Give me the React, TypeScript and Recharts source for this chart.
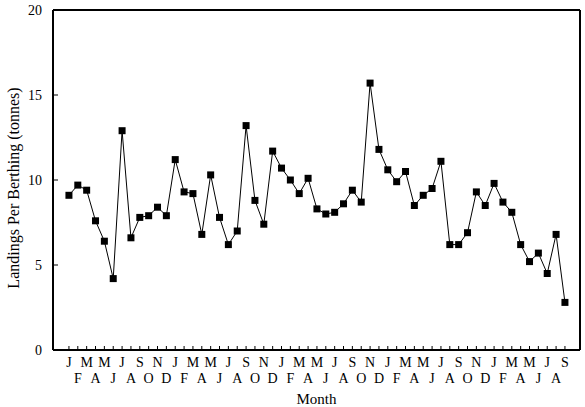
import React from "react";
import { LineChart, Line, XAxis, YAxis, Label, ReferenceLine } from "recharts";

// monthly landings per berthing (tonnes), Jan of year 1 .. Sep of year 5
const months = [
  "J", "F", "M", "A", "M", "J", "J", "A", "S", "O", "N", "D",
  "J", "F", "M", "A", "M", "J", "J", "A", "S", "O", "N", "D",
  "J", "F", "M", "A", "M", "J", "J", "A", "S", "O", "N", "D",
  "J", "F", "M", "A", "M", "J", "J", "A", "S", "O", "N", "D",
  "J", "F", "M", "A", "M", "J", "J", "A", "S",
];

const landings = [
  9.1, 9.7, 9.4, 7.6, 6.4, 4.2, 12.9, 6.6, 7.8, 7.9, 8.4, 7.9,
  11.2, 9.3, 9.2, 6.8, 10.3, 7.8, 6.2, 7.0, 13.2, 8.8, 7.4, 11.7,
  10.7, 10.0, 9.2, 10.1, 8.3, 8.0, 8.1, 8.6, 9.4, 8.7, 15.7, 11.8,
  10.6, 9.9, 10.5, 8.5, 9.1, 9.5, 11.1, 6.2, 6.2, 6.9, 9.3, 8.5,
  9.8, 8.7, 8.1, 6.2, 5.2, 5.7, 4.5, 6.8, 2.8,
];

const yTicks = [0, 5, 10, 15, 20];
const xDomain = [-1.8, 57.7];

const FONT = "'Liberation Serif', 'Times New Roman', serif";

const data = landings.map((v, i) => ({ i, month: months[i], value: v }));

function MonthTick(props: any) {
  const { x, y, payload } = props;
  const idx = payload.value as number;
  const top = idx % 2 === 0;
  return (
    <g>
      <line x1={x} y1={y} x2={x} y2={y - 4} stroke="#000" strokeWidth={1} />
      <text
        x={x}
        y={top ? y + 17 : y + 33}
        textAnchor="middle"
        fontFamily={FONT}
        fontSize={14}
        fill="#000"
      >
        {months[idx]}
      </text>
    </g>
  );
}

function ValueTick(props: any) {
  const { x, y, payload } = props;
  return (
    <g>
      <line x1={x} y1={y} x2={x + 5} y2={y} stroke="#000" strokeWidth={1} />
      <text x={x - 11} y={y + 5} textAnchor="end" fontFamily={FONT} fontSize={14} fill="#000">
        {payload.value}
      </text>
    </g>
  );
}

function SquareDot(props: any) {
  const { cx, cy } = props;
  if (cx == null || cy == null) return null;
  return <rect x={cx - 3.5} y={cy - 3.5} width={7} height={7} fill="#000" />;
}

export default function App() {
  return (
    <div style={{ position: "absolute", left: 0, top: 0, background: "#fff" }}>
      <LineChart
        width={585}
        height={407}
        data={data}
        margin={{ top: 10, right: 5, bottom: 0, left: 0 }}
      >
        <XAxis
          dataKey="i"
          type="number"
          domain={xDomain}
          ticks={data.map((d) => d.i)}
          interval={0}
          height={57}
          tickSize={0}
          tickMargin={0}
          tick={<MonthTick />}
          axisLine={{ stroke: "#000", strokeWidth: 2 }}
        >
          <Label
            value="Month"
            position="insideBottom"
            offset={3}
            style={{ fontFamily: FONT, fontSize: 15, fill: "#000" }}
          />
        </XAxis>
        <YAxis
          type="number"
          domain={[0, 20]}
          ticks={yTicks}
          width={53}
          tickSize={0}
          tickMargin={0}
          tick={<ValueTick />}
          axisLine={{ stroke: "#000", strokeWidth: 2 }}
        >
          <Label
            content={({ viewBox }: any) => {
              const cx = viewBox.x + 19;
              const cy = viewBox.y + viewBox.height / 2 + 8;
              return (
                <text
                  x={cx}
                  y={cy}
                  transform={`rotate(-90, ${cx}, ${cy})`}
                  textAnchor="middle"
                  fontFamily={FONT}
                  fontSize={16}
                  fill="#000"
                >
                  Landings Per Berthing (tonnes)
                </text>
              );
            }}
          />
        </YAxis>
        {/* box frame: top and right edges */}
        <ReferenceLine y={20} stroke="#000" strokeWidth={2} ifOverflow="visible" />
        <ReferenceLine x={xDomain[1]} stroke="#000" strokeWidth={2} ifOverflow="visible" />
        <Line
          dataKey="value"
          stroke="#000"
          strokeWidth={1}
          dot={<SquareDot />}
          activeDot={false}
          isAnimationActive={false}
        />
      </LineChart>
    </div>
  );
}
